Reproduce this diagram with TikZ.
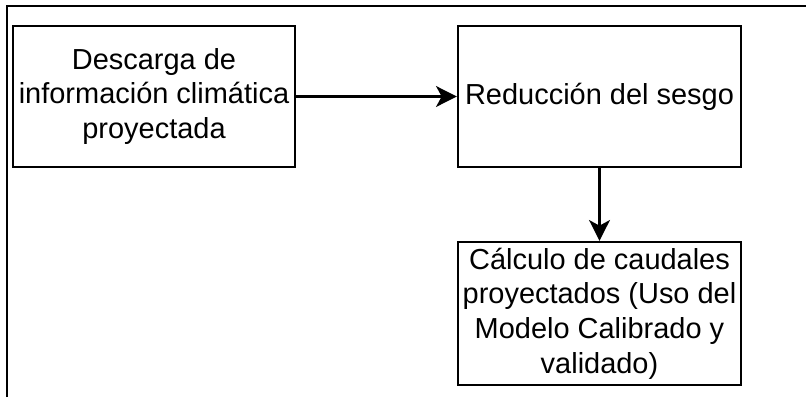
\documentclass[tikz,border=0pt]{standalone}
\usepackage{fontspec}
\setmainfont{Liberation Sans}
\usetikzlibrary{arrows.meta}

\begin{document}
\begin{tikzpicture}[
    caja/.style={draw, line width=1.6pt, align=center, inner sep=0pt,
      font=\fontsize{20.6}{24.6}\selectfont},
    flecha/.style={line width=1.7pt, -{Stealth[length=0.52cm, width=0.52cm, inset=0.14cm]}}
  ]
    \useasboundingbox (0,0) rectangle (20.15,-9.925);
    % outer frame
    \coordinate (fa) at (0.175,-9.925);
    \coordinate (fb) at (0.175,-0.15);
    \coordinate (fc) at (20.15,-0.15);
    \draw[line width=1.6pt] (fa) -- (fb) -- (fc);
    % boxes
    \node[caja, minimum width=7.05cm, minimum height=3.525cm] (descarga) at (3.85,-2.4125)
      {Descarga de\\información climática\\proyectada};
    \node[caja, minimum width=7.075cm, minimum height=3.525cm] (sesgo) at (14.9875,-2.4125)
      {Reducción del sesgo};
    \node[caja, minimum width=7.075cm, minimum height=3.575cm] (caudales) at (14.9875,-7.8375)
      {Cálculo de caudales\\proyectados (Uso del\\Modelo Calibrado y\\validado)};
    % arrows
    \draw[flecha] (descarga) -- (sesgo);
    \draw[flecha] (sesgo) -- (caudales);
  \end{tikzpicture}
\end{document}
